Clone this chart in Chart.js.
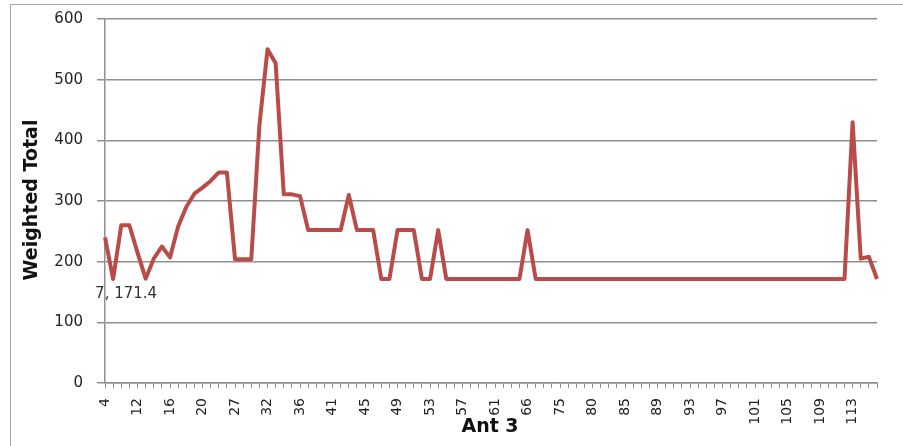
<!DOCTYPE html>
<html>
<head>
<meta charset="utf-8">
<script src="https://cdn.jsdelivr.net/npm/chart.js@4.4.1/dist/chart.umd.min.js"></script>
<style>
  html, body { margin: 0; padding: 0; background: #ffffff; }
  canvas { display: block; }
</style>
</head>
<body>
<canvas id="chart" width="903" height="446"></canvas>
<script>
// "Ant 3" categories (only every 4th one gets a label, like the original sheet)
const antIds = [
  4, 7, 8, 10, 12, 13, 14, 15, 16, 17, 18, 19, 20, 22, 24, 25,
  27, 28, 30, 31, 32, 33, 34, 35, 36, 37, 38, 40, 41, 42, 43, 44,
  45, 46, 47, 48, 49, 50, 51, 52, 53, 54, 55, 56, 57, 58, 59, 60,
  61, 62, 63, 65, 66, 68, 70, 72, 75, 76, 78, 79, 80, 81, 83, 84,
  85, 86, 87, 88, 89, 90, 91, 92, 93, 94, 95, 96, 97, 98, 99, 100,
  101, 102, 103, 104, 105, 106, 107, 108, 109, 110, 111, 112, 113, 114, 115, 116
];

// 16 values per row, same layout as antIds
const weightedTotal = [
  240, 171.4, 260, 260, 215, 172, 205, 225, 207, 258, 290, 312, 322, 333, 347, 347,
  204, 204, 204, 425, 550, 527, 311, 311, 308, 252, 252, 252, 252, 252, 310, 252,
  252, 252, 171.4, 171.4, 252, 252, 252, 171.4, 171.4, 252, 171.4, 171.4, 171.4, 171.4, 171.4, 171.4,
  171.4, 171.4, 171.4, 171.4, 252, 171.4, 171.4, 171.4, 171.4, 171.4, 171.4, 171.4, 171.4, 171.4, 171.4, 171.4,
  171.4, 171.4, 171.4, 171.4, 171.4, 171.4, 171.4, 171.4, 171.4, 171.4, 171.4, 171.4, 171.4, 171.4, 171.4, 171.4,
  171.4, 171.4, 171.4, 171.4, 171.4, 171.4, 171.4, 171.4, 171.4, 171.4, 171.4, 171.4, 430, 205, 208, 171.4
];

const yTicks = [0, 100, 200, 300, 400, 500, 600];
const labelEvery = 4;
const labelledPoint = 1; // the "7, 171.4" data label

const gridGray = "#8f8f8f";
const lineRed = "#b94c49";

// frame, axis titles and the one data label
const extras = {
  id: "extras",
  beforeDraw(chart) {
    const ctx = chart.ctx;
    ctx.save();
    ctx.fillStyle = "#ffffff";
    ctx.fillRect(0, 0, chart.width, chart.height);
    ctx.strokeStyle = "#a6a6a6";
    ctx.lineWidth = 1;
    ctx.strokeRect(10.5, 4.5, chart.width + 20, chart.height + 20);
    ctx.restore();
  },
  afterDraw(chart) {
    const ctx = chart.ctx;
    ctx.save();
    ctx.fillStyle = "#111111";
    ctx.textAlign = "center";
    ctx.textBaseline = "middle";

    ctx.font = "bold 19px 'DejaVu Sans'";
    ctx.translate(32, 200);
    ctx.rotate(-Math.PI / 2);
    ctx.fillText("Weighted Total", 0, 0);
    ctx.setTransform(1, 0, 0, 1, 0, 0);

    ctx.font = "bold 19px 'DejaVu Sans'";
    ctx.fillText("Ant 3", 490, 427);

    const pt = chart.getDatasetMeta(0).data[labelledPoint];
    ctx.fillStyle = "#333333";
    ctx.font = "15px 'DejaVu Sans'";
    ctx.fillText(antIds[labelledPoint] + ", " + weightedTotal[labelledPoint], pt.x + 13, pt.y + 15);
    ctx.restore();
  }
};

new Chart(document.getElementById("chart"), {
  type: "line",
  data: {
    labels: antIds,
    datasets: [{
      data: weightedTotal,
      borderColor: lineRed,
      borderWidth: 4,
      borderJoinStyle: "round",
      pointRadius: 0,
      tension: 0,
      fill: false
    }]
  },
  options: {
    responsive: false,
    animation: false,
    devicePixelRatio: 1,
    layout: { padding: { left: 0, top: 19, right: 26, bottom: 0 } },
    plugins: {
      legend: { display: false },
      tooltip: { enabled: false }
    },
    scales: {
      x: {
        type: "category",
        offset: false,
        grid: {
          drawOnChartArea: false,
          drawTicks: true,
          tickLength: 5,
          color: gridGray
        },
        border: { color: gridGray, width: 1.5 },
        ticks: {
          autoSkip: false,
          minRotation: 90,
          maxRotation: 90,
          padding: 10,
          color: "#222222",
          font: { family: "'DejaVu Sans'", size: 14 },
          callback: (value, index) => (index % labelEvery === 0 ? antIds[index] : "")
        },
        afterFit: (scale) => {
          scale.height = 63;
          scale.paddingLeft = 0;
          scale.paddingRight = 0;
        }
      },
      y: {
        min: yTicks[0],
        max: yTicks[yTicks.length - 1],
        afterBuildTicks: (scale) => { scale.ticks = yTicks.map((v) => ({ value: v })); },
        grid: {
          color: gridGray,
          lineWidth: 1.5,
          tickLength: 8
        },
        border: { color: gridGray, width: 1.5 },
        ticks: {
          padding: 14,
          color: "#222222",
          font: { family: "'DejaVu Sans'", size: 15 }
        },
        afterFit: (scale) => {
          scale.width = 105;
          scale.paddingTop = 0;
          scale.paddingBottom = 0;
        }
      }
    }
  },
  plugins: [extras]
});
</script>
</body>
</html>
